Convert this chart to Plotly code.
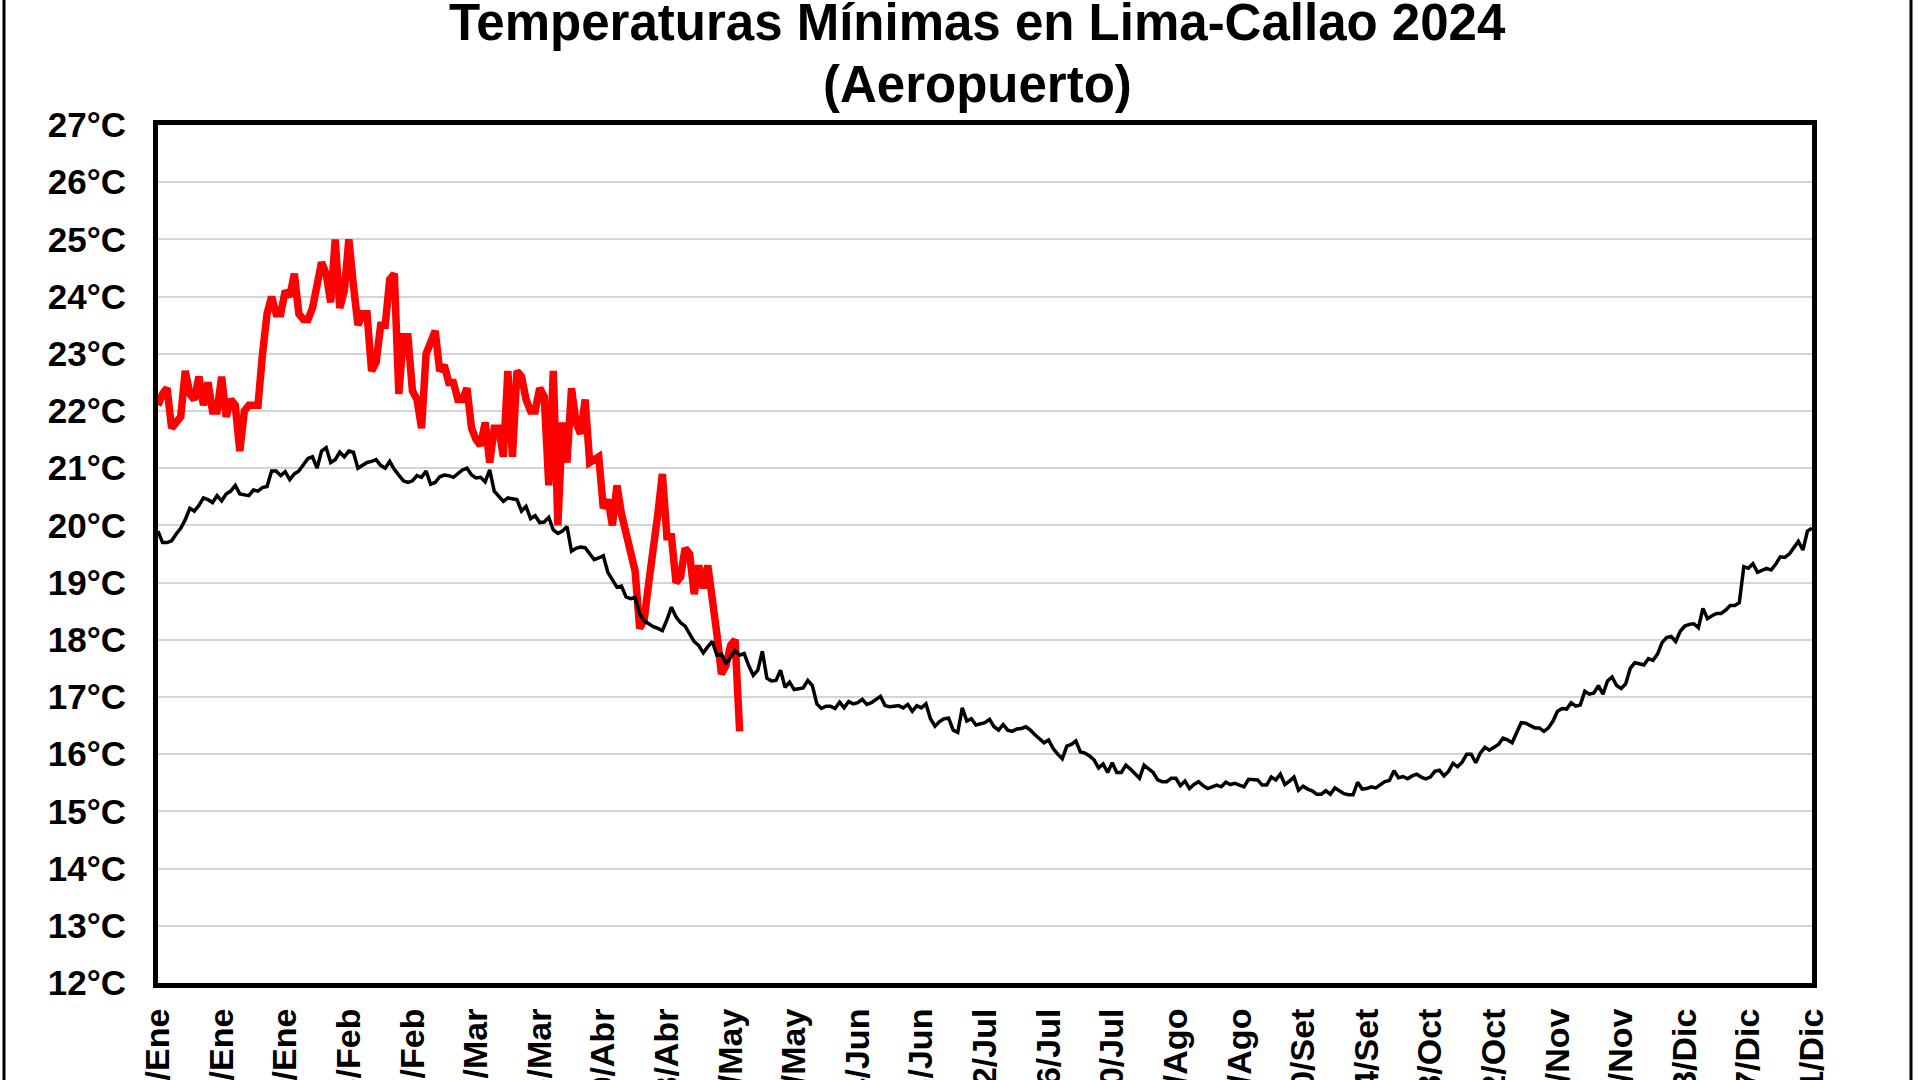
import pandas as pd
import plotly.graph_objects as go

# ---------------- data ----------------
start_date = "2024-01-02"

# 2024 daily minimum temperatures (°C), from 2/Ene
tmin_2024 = [
    22.1, 22.3, 22.4, 21.7, 21.8, 21.9, 22.7, 22.3, 22.2, 22.6,
    22.1, 22.5, 22.0, 22.0, 22.6, 21.9, 22.2, 22.1, 21.3, 22.0,
    22.1, 22.1, 22.1, 23.0, 23.7, 24.0, 23.7, 23.7, 24.1, 24.0,
    24.4, 23.7, 23.6, 23.6, 23.8, 24.2, 24.6, 24.4, 23.9, 25.0,
    23.8, 24.1, 25.0, 24.2, 23.5, 23.7, 23.7, 22.7, 22.85, 23.5,
    23.5, 24.3, 24.4, 22.3, 23.3, 23.3, 22.35, 22.2, 21.7, 23.0,
    23.2, 23.4, 22.7, 22.8, 22.5, 22.5, 22.2, 22.2, 22.4, 21.7,
    21.5, 21.4, 21.8, 21.1, 21.7, 21.7, 21.2, 22.7, 21.2, 22.7,
    22.6, 22.2, 22.0, 22.0, 22.4, 22.25, 20.7, 22.7, 20.0, 21.8,
    21.1, 22.4, 21.8, 21.6, 22.2, 21.1, 21.15, 21.2, 20.3, 20.45,
    20.0, 20.7, 20.2, 19.85, 19.6, 19.2, 18.2, 18.35, 19.0, 19.5,
    20.2, 20.9, 19.8, 19.8, 19.0, 19.1, 19.6, 19.5, 18.8, 19.3,
    18.9, 19.3, 18.8, 18.1, 17.4, 17.55, 17.9, 18.0, 16.4,
]

# Climatological normal of daily minimum (°C), 2/Ene .. 31/Dic
tmin_normal = [
    19.9, 19.7, 19.7, 19.73, 19.85, 19.95, 20.1, 20.3, 20.25, 20.35,
    20.48, 20.45, 20.4, 20.52, 20.43, 20.55, 20.6, 20.7, 20.55, 20.53,
    20.52, 20.62, 20.6, 20.66, 20.68, 20.95, 20.95, 20.87, 20.94, 20.8,
    20.9, 20.95, 21.05, 21.17, 21.2, 21.0, 21.3, 21.36, 21.1, 21.15,
    21.28, 21.2, 21.3, 21.28, 21.0, 21.05, 21.1, 21.12, 21.15, 21.05,
    21.0, 21.12, 20.98, 20.88, 20.78, 20.75, 20.78, 20.87, 20.84, 20.95,
    20.72, 20.75, 20.85, 20.88, 20.87, 20.84, 20.9, 20.97, 21.0, 20.88,
    20.83, 20.84, 20.76, 20.97, 20.6, 20.5, 20.42, 20.48, 20.47, 20.45,
    20.25, 20.33, 20.12, 20.17, 20.05, 20.06, 20.14, 19.92, 19.86, 19.9,
    19.98, 19.55, 19.6, 19.62, 19.61, 19.5, 19.4, 19.43, 19.47, 19.18,
    19.05, 18.92, 18.94, 18.75, 18.72, 18.74, 18.45, 18.33, 18.28, 18.23,
    18.2, 18.16, 18.35, 18.57, 18.4, 18.3, 18.24, 18.1, 17.97, 17.9,
    17.77, 17.88, 17.97, 17.73, 17.75, 17.58, 17.7, 17.81, 17.73, 17.76,
    17.55, 17.38, 17.47, 17.8, 17.33, 17.28, 17.29, 17.47, 17.17, 17.26,
    17.13, 17.15, 17.16, 17.29, 17.2, 16.88, 16.8, 16.84, 16.84, 16.8,
    16.91, 16.81, 16.92, 16.88, 16.9, 16.96, 16.87, 16.9, 16.95, 17.01,
    16.85, 16.83, 16.84, 16.85, 16.81, 16.87, 16.75, 16.85, 16.81, 16.88,
    16.62, 16.49, 16.57, 16.62, 16.63, 16.42, 16.38, 16.81, 16.58, 16.62,
    16.51, 16.53, 16.55, 16.61, 16.48, 16.42, 16.52, 16.42, 16.4, 16.44,
    16.45, 16.48, 16.42, 16.34, 16.26, 16.2, 16.25, 16.1, 16.0, 15.92,
    16.14, 16.17, 16.23, 16.04, 16.02, 15.97, 15.9, 15.76, 15.83, 15.68,
    15.85, 15.68, 15.68, 15.81, 15.74, 15.65, 15.58, 15.81, 15.75, 15.68,
    15.55, 15.52, 15.52, 15.58, 15.58, 15.45, 15.53, 15.4, 15.47, 15.52,
    15.45, 15.4, 15.43, 15.46, 15.43, 15.51, 15.47, 15.49, 15.46, 15.43,
    15.56, 15.55, 15.55, 15.46, 15.46, 15.6, 15.55, 15.65, 15.47, 15.53,
    15.6, 15.37, 15.44, 15.39, 15.36, 15.3, 15.3, 15.36, 15.3, 15.41,
    15.36, 15.31, 15.29, 15.29, 15.51, 15.39, 15.4, 15.43, 15.41, 15.46,
    15.52, 15.54, 15.71, 15.59, 15.61, 15.57, 15.62, 15.65, 15.6, 15.57,
    15.6, 15.7, 15.72, 15.62, 15.7, 15.84, 15.78, 15.86, 16.0, 16.0,
    15.85, 16.02, 16.12, 16.07, 16.12, 16.17, 16.28, 16.25, 16.2, 16.37,
    16.55, 16.54, 16.5, 16.46, 16.46, 16.4, 16.46, 16.58, 16.75, 16.8,
    16.79, 16.9, 16.84, 16.86, 17.1, 17.05, 17.07, 17.2, 17.05, 17.28,
    17.35, 17.2, 17.15, 17.23, 17.5, 17.6, 17.58, 17.56, 17.67, 17.64,
    17.75, 17.95, 18.04, 18.06, 17.97, 18.15, 18.24, 18.27, 18.28, 18.21,
    18.55, 18.37, 18.42, 18.46, 18.46, 18.52, 18.6, 18.6, 18.65, 19.28,
    19.25, 19.33, 19.18, 19.22, 19.25, 19.22, 19.32, 19.45, 19.44, 19.5,
    19.6, 19.72, 19.57, 19.9, 19.95,
]

tick_labels = [
    "2/Ene", "16/Ene", "30/Ene", "13/Feb", "27/Feb", "12/Mar", "26/Mar",
    "9/Abr", "23/Abr", "7/May", "21/May", "4/Jun", "18/Jun", "2/Jul",
    "16/Jul", "30/Jul", "13/Ago", "27/Ago", "10/Set", "24/Set", "8/Oct",
    "22/Oct", "5/Nov", "19/Nov", "3/Dic", "17/Dic", "31/Dic",
]
y_ticks = list(range(12, 28))

title_line1 = "Temperaturas Mínimas en Lima-Callao 2024"
title_line2 = "(Aeropuerto)"

# ---------------- figure ----------------
dates_2024 = pd.date_range(start_date, periods=len(tmin_2024), freq="D")
dates_normal = pd.date_range(start_date, periods=len(tmin_normal), freq="D")
tick_dates = pd.date_range(start_date, periods=len(tick_labels), freq="14D")

FONT = "Arial, Liberation Sans, sans-serif"

fig = go.Figure()
fig.add_trace(go.Scatter(
    x=dates_2024, y=tmin_2024, mode="lines",
    line=dict(color="#FF0000", width=7.5), name="2024", showlegend=False,
))
fig.add_trace(go.Scatter(
    x=dates_normal, y=tmin_normal, mode="lines",
    line=dict(color="#000000", width=3.5), name="Normal", showlegend=False,
))

fig.update_layout(
    width=1920, height=1080,
    margin=dict(l=158, r=108, t=125, b=97, autoexpand=False),
    paper_bgcolor="white", plot_bgcolor="white",
    font=dict(family=FONT, color="black"),
    xaxis=dict(
        type="date",
        range=[dates_normal[0], dates_normal[-1]],
        tickmode="array", tickvals=tick_dates, ticktext=tick_labels,
        tickangle=-90, ticks="", showgrid=False, zeroline=False,
        showline=True, mirror=True, linecolor="black", linewidth=5,
        tickfont=dict(size=34, family=FONT, weight="bold", color="black"),
        ticklabelstandoff=7, automargin=False,
    ),
    yaxis=dict(
        range=[12, 27], tickmode="array", tickvals=y_ticks,
        ticktext=[f"{v}°C" for v in y_ticks],
        ticks="", showgrid=True, gridcolor="#d4d4d4", gridwidth=1.5,
        zeroline=False,
        showline=True, mirror=True, linecolor="black", linewidth=5,
        tickfont=dict(size=35, family=FONT, weight="bold", color="black"),
        ticklabelstandoff=20, automargin=False,
    ),
    annotations=[
        dict(text=title_line1, xref="paper", yref="paper",
             x=(977 - 158) / 1654, y=(983 - 23) / 858,
             xanchor="center", yanchor="middle", showarrow=False,
             font=dict(size=51, family=FONT, weight="bold", color="black")),
        dict(text=title_line2, xref="paper", yref="paper",
             x=(977 - 158) / 1654, y=(983 - 84) / 858,
             xanchor="center", yanchor="middle", showarrow=False,
             font=dict(size=51, family=FONT, weight="bold", color="black")),
    ],
    shapes=[
        dict(type="rect", xref="paper", yref="paper",
             x0=(4 - 158) / 1654, x1=(1911 - 158) / 1654,
             y0=-0.3, y1=1.3,
             line=dict(color="black", width=3), layer="below"),
    ],
)

fig.write_html("out.html")
